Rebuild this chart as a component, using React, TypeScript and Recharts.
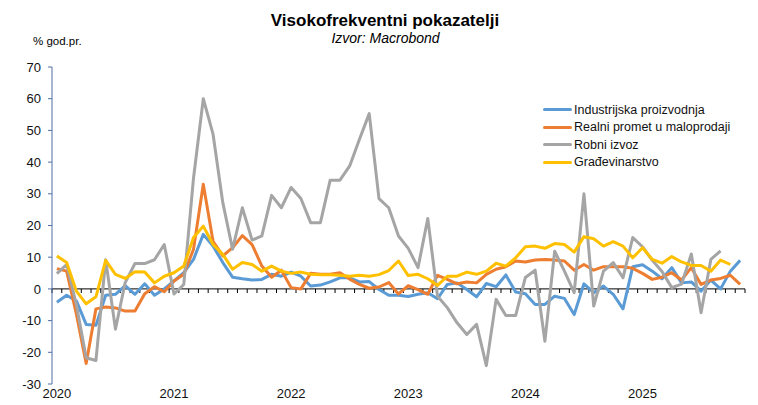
import React from 'react';
import { LineChart, Line, XAxis, YAxis, ReferenceLine, Legend } from 'recharts';

// monthly, Jan 2020 – Nov 2025, % god.pr.
const yearLabels = ['2020', '2021', '2022', '2023', '2024', '2025'];
const yTicks = [-30, -20, -10, 0, 10, 20, 30, 40, 50, 60, 70];
const seriesNames = ['Industrijska proizvodnja', 'Realni promet u maloprodaji', 'Robni izvoz', 'Građevinarstvo'];

const industrija = [
  -4.2, -2, -3.8, -11.2, -11.5, -2, -1.7, 1, -1.7, 1.6, -2, 0,
  2.5, 5.1, 9.3, 17.2, 13.5, 8.3, 3.7, 3.2, 2.8, 3, 4.6, 4,
  5.3, 4, 0.9, 1.2, 2.2, 3.5, 3.5, 2.2, 2.3, -0.2, -2, -2,
  -2.4, -1.7, -1.2, -3.1, 1.4, 1.9, -0.2, -2.5, 1.7, 0.7, 4.4, -1,
  -1.5, -4.9, -4.9, -2.3, -3, -8.1, 1.6, -1.2, 0.9, -1.7, -6.3, 7,
  7.6, 5.6, 3.2, 6.7, 1.9, 2.2, -0.7, 2.8, 0, 5.6, 9,
];

const maloprodaja = [
  6.4, 5.6, -8, -23.5, -6.3, -5.7, -6, -7, -7, -1.5, 0.7, -0.9,
  2.5, 4.6, 12.5, 33, 15, 10.4, 13, 16.8, 14, 7.2, 3.7, 5.9,
  0.4, 0, 4.9, 4.6, 4.6, 5.1, 3.1, 1.4, 0.2, 0.6, 2, -1.6,
  1, -0.2, -1.7, 4.3, 3, 1.6, 2.2, 1.9, 4.6, 6.2, 7, 8.8,
  8.5, 9.1, 9.3, 9.1, 8.8, 5.9, 7.7, 5.9, 7, 7, 7, 6.5,
  4.9, 3, 3.7, 5.1, 2.8, 6.7, 1.4, 2.8, 3.3, 4.3, 1.4,
];

const izvoz = [
  4.8, 7.7, -5, -21.7, -22.6, 9.2, -12.7, 2, 8, 8, 9.2, 14,
  -1.6, 1.4, 35, 60, 48.8, 27.2, 12.5, 25.6, 15.4, 16.7, 29.5, 25.6,
  32, 28.5, 20.9, 20.9, 34.3, 34.3, 38.8, 47.2, 55.3, 28.5, 25.6, 16.7,
  12.8, 6.7, 22.2, -2.3, -5.9, -10.7, -14.4, -11.2, -24.2, -3.3, -8.4, -8.4,
  3.6, 5.9, -16.5, 11.9, 5.6, -1.2, 30, -5.4, 5.6, 8.3, 3.5, 16.2,
  13.3, 9, 5.5, 0.4, 1.5, 11, -7.5, 9.3, 12, null, null,
];

const gradevinarstvo = [
  10.4, 8.3, -0.7, -4.7, -2.5, 9, 4.6, 3.3, 5.4, 5.3, 1.9, 4,
  5.1, 7.2, 16.2, 19.8, 14, 10.9, 6.2, 8.3, 7.7, 5.6, 7.2, 5.6,
  4.9, 5.3, 4.6, 4.5, 4.5, 4.3, 4, 4.3, 4, 4.5, 5.8, 8.8,
  4.2, 4.6, 3.2, 1.1, 4, 4, 5.3, 4.6, 5.6, 8.1, 7.2, 9.8,
  13.3, 13.5, 12.8, 14.3, 14, 11.6, 16.5, 15.8, 13.5, 14.9, 13.5, 9.8,
  13, 9.3, 8.1, 10.2, 8.5, 7.4, 7.4, 5.6, 9.1, 7.7, null,
];

const data = industrija.map((v, i) => ({
  i,
  ind: v,
  mal: maloprodaja[i],
  izv: izvoz[i],
  gra: gradevinarstvo[i],
}));

const monthTicks = Array.from({ length: data.length + 1 }, (_, k) => k - 0.5);

const font = '"Liberation Sans", Arial, sans-serif';

const LegendBox = (props: any) => {
  const items = [...(props.payload || [])].sort(
    (a: any, b: any) => seriesNames.indexOf(a.value) - seriesNames.indexOf(b.value)
  );
  return (
    <div style={{ fontFamily: font, fontSize: 12.5, color: '#111' }}>
      {items.map((p: any) => (
        <div key={p.value} style={{ display: 'flex', alignItems: 'center', height: 17.5 }}>
          <span style={{ width: 29, height: 3, background: p.color, borderRadius: 2, marginRight: 2 }} />
          <span>{p.value}</span>
        </div>
      ))}
    </div>
  );
};

export default function App() {
  return (
    <div style={{ position: 'absolute', left: 0, top: 0, width: 758, height: 405, background: '#fff', fontFamily: font }}>
      <div style={{ position: 'absolute', left: 0, width: 770, top: 11, textAlign: 'center', fontSize: 17, fontWeight: 'bold' }}>
        Visokofrekventni pokazatelji
      </div>
      <div style={{ position: 'absolute', left: 0, width: 771, top: 30, textAlign: 'center', fontSize: 14, fontStyle: 'italic' }}>
        Izvor: Macrobond
      </div>
      <div style={{ position: 'absolute', left: 33, top: 35, fontSize: 11.5 }}>% god.pr.</div>
      <LineChart width={758} height={405} data={data} margin={{ top: 67, right: 13, bottom: 0, left: 0 }}>
        <XAxis
          dataKey="i"
          type="number"
          domain={[-0.5, data.length - 0.5]}
          ticks={[0, 12, 24, 36, 48, 60]}
          tickFormatter={(v: number) => yearLabels[v / 12]}
          axisLine={false}
          tickLine={false}
          tickSize={3}
          height={21}
          interval={0}
          tick={{ fill: '#111', fontSize: 13 }}
        />
        <YAxis
          domain={[-30, 70]}
          ticks={yTicks}
          width={52}
          interval={0}
          tickSize={4}
          tickMargin={7}
          axisLine={{ stroke: '#4f6fa5' }}
          tickLine={{ stroke: '#4f6fa5' }}
          tick={{ fill: '#111', fontSize: 13 }}
        />
        <ReferenceLine y={0} stroke="#000" strokeWidth={1} />
        {monthTicks.map((x) => (
          <ReferenceLine key={x} segment={[{ x, y: 0 }, { x, y: -1.3 }]} stroke="#000" strokeWidth={1} />
        ))}
        <Legend
          layout="vertical"
          align="center"
          verticalAlign="middle"
          content={LegendBox}
          wrapperStyle={{ left: 543, top: 101, width: 200 }}
        />
        <Line dataKey="ind" name="Industrijska proizvodnja" stroke="#5B9BD5" strokeWidth={3} dot={false} strokeLinejoin="round" isAnimationActive={false} />
        <Line dataKey="mal" name="Realni promet u maloprodaji" stroke="#ED7D31" strokeWidth={3} dot={false} strokeLinejoin="round" isAnimationActive={false} />
        <Line dataKey="izv" name="Robni izvoz" stroke="#A5A5A5" strokeWidth={3} dot={false} strokeLinejoin="round" isAnimationActive={false} />
        <Line dataKey="gra" name="Građevinarstvo" stroke="#FFC000" strokeWidth={3} dot={false} strokeLinejoin="round" isAnimationActive={false} />
      </LineChart>
    </div>
  );
}
